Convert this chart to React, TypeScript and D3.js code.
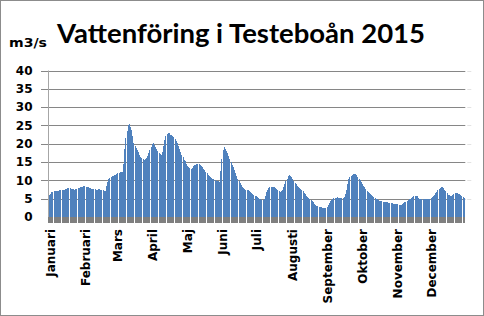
import React from "react";
import * as d3 from "d3";

// daily flow, m3/s
const jan = [5.3, 5.9, 6.4, 6.7, 6.9, 7.0, 7.1, 7.2, 7.2, 7.2, 7.3, 7.3, 7.3, 7.4, 7.5, 7.6, 7.7, 7.8, 7.8, 7.8, 7.7, 7.6, 7.6, 7.5, 7.6, 7.7, 7.8, 7.9, 8.1, 8.2, 8.3];
const feb = [8.4, 8.4, 8.3, 8.2, 8.1, 8.0, 7.8, 7.7, 7.6, 7.6, 7.6, 7.5, 7.5, 7.6, 7.6, 7.5, 7.4, 7.3, 7.1, 7.0, 8.5, 9.6, 10.3, 10.6, 10.9, 11.1, 11.3, 11.5];
const mar = [11.6, 11.8, 12.0, 12.1, 12.2, 12.3, 12.3, 14.5, 18.5, 21.5, 23.5, 25.0, 25.3, 24.6, 23.7, 22.0, 20.3, 19.5, 18.9, 18.4, 17.7, 17.0, 16.4, 16.1, 15.8, 15.6, 15.7, 16.0, 16.6, 17.4, 18.3];
const apr = [19.2, 19.8, 20.1, 19.7, 19.1, 18.6, 18.1, 17.6, 17.2, 16.8, 17.8, 19.5, 21.0, 22.0, 22.7, 23.0, 22.8, 22.5, 22.3, 22.1, 21.8, 21.4, 20.8, 20.2, 19.5, 18.7, 17.8, 17.0, 16.3, 15.6];
const maj = [15.2, 14.6, 14.0, 13.6, 13.3, 13.2, 13.4, 13.8, 14.1, 14.2, 14.4, 14.5, 14.4, 14.2, 13.9, 13.6, 13.2, 12.8, 12.3, 11.9, 11.5, 11.2, 11.0, 10.7, 10.5, 10.3, 10.1, 9.9, 9.8, 9.7, 9.6];
const jun = [12.5, 15.8, 18.3, 19.0, 18.6, 18.1, 17.4, 16.6, 15.9, 15.1, 14.3, 13.6, 12.8, 12.0, 11.2, 10.5, 9.8, 9.2, 8.7, 8.3, 8.0, 7.7, 7.5, 7.4, 7.3, 7.1, 6.9, 6.6, 6.3, 6.0];
const jul = [5.8, 5.6, 5.4, 5.2, 5.0, 4.8, 4.6, 4.6, 4.8, 5.6, 6.8, 7.4, 7.9, 8.2, 8.3, 8.3, 8.3, 8.2, 7.9, 7.6, 7.3, 7.0, 6.9, 7.0, 7.5, 8.2, 9.0, 9.8, 10.5, 11.1, 11.5];
const aug = [11.3, 10.9, 10.4, 9.9, 9.4, 9.0, 8.6, 8.2, 7.9, 7.6, 7.3, 7.0, 6.6, 6.2, 5.8, 5.5, 5.2, 4.9, 4.6, 4.3, 4.0, 3.6, 3.3, 3.1, 2.9, 2.8, 2.7, 2.6, 2.5, 2.5, 2.5];
const sep = [2.5, 2.8, 3.3, 3.8, 4.3, 4.7, 5.0, 5.1, 5.2, 5.3, 5.4, 5.3, 5.2, 5.1, 5.2, 5.3, 5.4, 6.2, 7.5, 9.0, 10.3, 10.9, 11.3, 11.5, 11.7, 11.8, 11.7, 11.4, 11.0, 10.5];
const okt = [10.0, 9.5, 9.0, 8.5, 8.1, 7.6, 7.2, 6.9, 6.6, 6.3, 6.0, 5.7, 5.4, 5.2, 5.0, 4.8, 4.6, 4.5, 4.4, 4.3, 4.2, 4.2, 4.1, 4.0, 4.0, 3.9, 3.8, 3.7, 3.7, 3.6, 3.6];
const nov = [3.6, 3.6, 3.5, 3.4, 3.3, 3.4, 3.6, 3.8, 4.0, 4.2, 4.4, 4.6, 4.8, 5.0, 5.2, 5.4, 5.6, 5.7, 5.8, 5.6, 5.3, 5.0, 4.9, 4.8, 4.8, 4.8, 4.8, 4.8, 4.8, 4.9];
const dec = [5.0, 5.2, 5.4, 5.6, 6.0, 6.5, 6.9, 7.3, 7.6, 7.9, 8.1, 8.2, 8.0, 7.5, 7.0, 6.5, 6.1, 5.9, 5.8, 5.8, 6.1, 6.4, 6.6, 6.6, 6.5, 6.4, 6.2, 6.0, 5.8, 5.5, 5.2];

const monthNames = ["Januari", "Februari", "Mars", "April", "Maj", "Juni", "Juli", "Augusti", "September", "Oktober", "November", "December"];
const yTicks = [0, 5, 10, 15, 20, 25, 30, 35, 40];

const monthData = [jan, feb, mar, apr, maj, jun, jul, aug, sep, okt, nov, dec];
const flow = monthData.flat();

export default function App() {
    const width = 484;
    const height = 316;
    // init variables
    let plotLeft = 48.3;
    let plotRight = 465.3;
    let plotTop = 70.5;
    let plotBottom = 217;

    let x = d3.scaleBand<number>().domain(d3.range(flow.length)).range([plotLeft, plotRight]).padding(0);
    let y = d3.scaleLinear().domain([0, 40]).range([plotBottom, plotTop]);
    // snap each day to a whole pixel, so every 7th-8th column stays empty like the original
    const px = (i: number) => Math.floor(x(i) as number);

    // first day index of each month
    let monthStart: number[] = [];
    let acc = 0;
    monthData.forEach((m) => {
        monthStart.push(acc);
        acc += m.length;
    });

    const labelFont = "'DejaVu Sans', sans-serif";

    return (
        <svg width={width} height={height} style={{ position: "absolute", left: 0, top: 0, background: "#fff" }}>
            <rect x={0.5} y={0.5} width={width - 1} height={height - 1} fill="#fff" stroke="#8c8c8c" />

            <text x={57} y={43} fontFamily="Lato, sans-serif" fontWeight={700} fontSize={27.5} textLength={368} lengthAdjust="spacingAndGlyphs" fill="#000">
                Vattenföring i Testeboån 2015
            </text>
            <text x={9} y={47} fontFamily={labelFont} fontWeight={700} fontSize={12.5} textLength={38} lengthAdjust="spacingAndGlyphs" fill="#000">
                m3/s
            </text>

            {/* gridlines + y labels */}
            {yTicks.map((t) => (
                <g key={t}>
                    {t > 0 && (
                        <line x1={41} x2={plotRight} y1={Math.round(y(t)) + 0.5} y2={Math.round(y(t)) + 0.5} stroke="#868686" strokeWidth={1} />
                    )}
                    {t > 0 && (
                        <line x1={plotRight + 2} x2={plotRight + 6} y1={Math.round(y(t)) + 0.5} y2={Math.round(y(t)) + 0.5} stroke="#e2e2e2" strokeWidth={1} />
                    )}
                    <text x={32.5} y={y(t)} dy="0.36em" textAnchor="end" fontFamily={labelFont} fontWeight={700} fontSize={12} fill="#000">
                        {t}
                    </text>
                </g>
            ))}

            {/* bars */}
            <g shapeRendering="crispEdges">
                {flow.map((v, i) => (
                    <rect key={i} x={px(i)} y={Math.round(y(v))} width={1} height={plotBottom - Math.round(y(v))} fill="#4F81BD" />
                ))}
            </g>

            {/* vertical axis */}
            <line x1={48.5} x2={48.5} y1={plotTop} y2={plotBottom} stroke="#a6a6a6" />

            {/* x axis tick band */}
            <g shapeRendering="crispEdges">
                {flow.map((v, i) => (
                    <rect key={i} x={px(i)} y={plotBottom} width={1} height={6} fill="#7f7f7f" />
                ))}
            </g>

            {/* month labels */}
            {monthNames.map((m, i) => (
                <text
                    key={m}
                    transform={"translate(" + ((x(monthStart[i]) as number) + 2) + ",229) rotate(-90)"}
                    dy="0.36em"
                    textAnchor="end"
                    fontFamily={labelFont}
                    fontWeight={700}
                    fontSize={12}
                    fill="#000"
                >
                    {m}
                </text>
            ))}
        </svg>
    );
}
